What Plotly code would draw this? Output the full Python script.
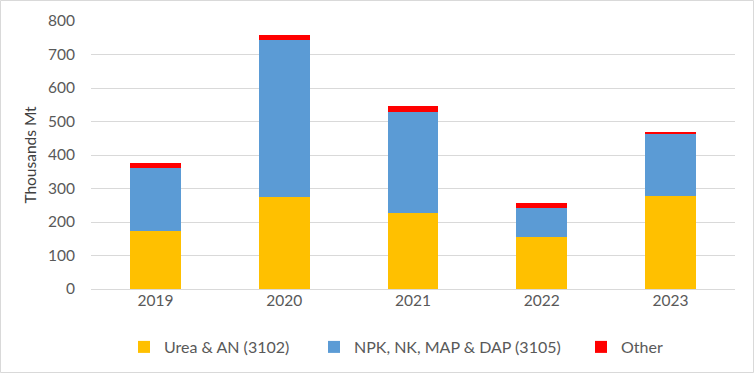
import plotly.graph_objects as go

years = ["2019", "2020", "2021", "2022", "2023"]
urea_an = [174, 275, 226, 155, 277]
npk = [188, 467, 302, 87, 187]
other = [13, 16, 17, 14, 2]
y_ticks = [0, 100, 200, 300, 400, 500, 600, 700, 800]

FONT = "Lato, 'Open Sans', sans-serif"
FS = 15.5
W, H = 754, 373
L, R, T, B = 91, 19, 21, 84
pw, ph = W - L - R, H - T - B

fig = go.Figure()
fig.add_bar(x=years, y=urea_an, name="Urea & AN (3102)", legend="legend",
            marker=dict(color="#FFC000", line=dict(width=0)))
fig.add_bar(x=years, y=npk, name="NPK, NK, MAP & DAP (3105)", legend="legend2",
            marker=dict(color="#5B9BD5", line=dict(width=0)))
fig.add_bar(x=years, y=other, name="Other", legend="legend3",
            marker=dict(color="#FF0000", line=dict(width=0)))

leg_y = (289 - 347) / ph
def leg(text_left_px):
    return dict(orientation="h", x=(text_left_px - 40 - L) / pw, xanchor="left",
                y=leg_y, yanchor="middle", bgcolor="rgba(0,0,0,0)",
                font=dict(size=16, color="#595959"))

fig.update_layout(
    width=W, height=H,
    barmode="stack", bargap=0.605,
    margin=dict(l=L, r=R, t=T, b=B, autoexpand=False),
    paper_bgcolor="white", plot_bgcolor="white",
    font=dict(family=FONT, size=FS, color="#595959"),
    xaxis=dict(showgrid=False, showline=False, ticks="", automargin=False,
               tickfont=dict(size=FS, color="#595959")),
    yaxis=dict(range=[0, 800], tickvals=y_ticks, showgrid=True, gridcolor="#D9D9D9", gridwidth=1,
               zeroline=True, zerolinecolor="#D9D9D9", zerolinewidth=1, automargin=False,
               showline=False, ticks="", ticklabelstandoff=15,
               title=dict(text="Thousands Mt", font=dict(size=FS, color="#404040"), standoff=7),
               tickfont=dict(size=FS, color="#595959")),
    legend=leg(164),
    legend2=leg(354),
    legend3=leg(621),
    showlegend=True,
)
fig.add_shape(type="rect", xref="paper", yref="paper",
              x0=-(L - 0.5) / pw, x1=1 + (R - 0.5) / pw,
              y0=-(B - 0.5) / ph, y1=1 + (T - 0.5) / ph,
              line=dict(color="#D9D9D9", width=1), layer="below")

fig.write_html("out.html", config={"displayModeBar": False},
               post_script="document.body.style.margin='0';")
